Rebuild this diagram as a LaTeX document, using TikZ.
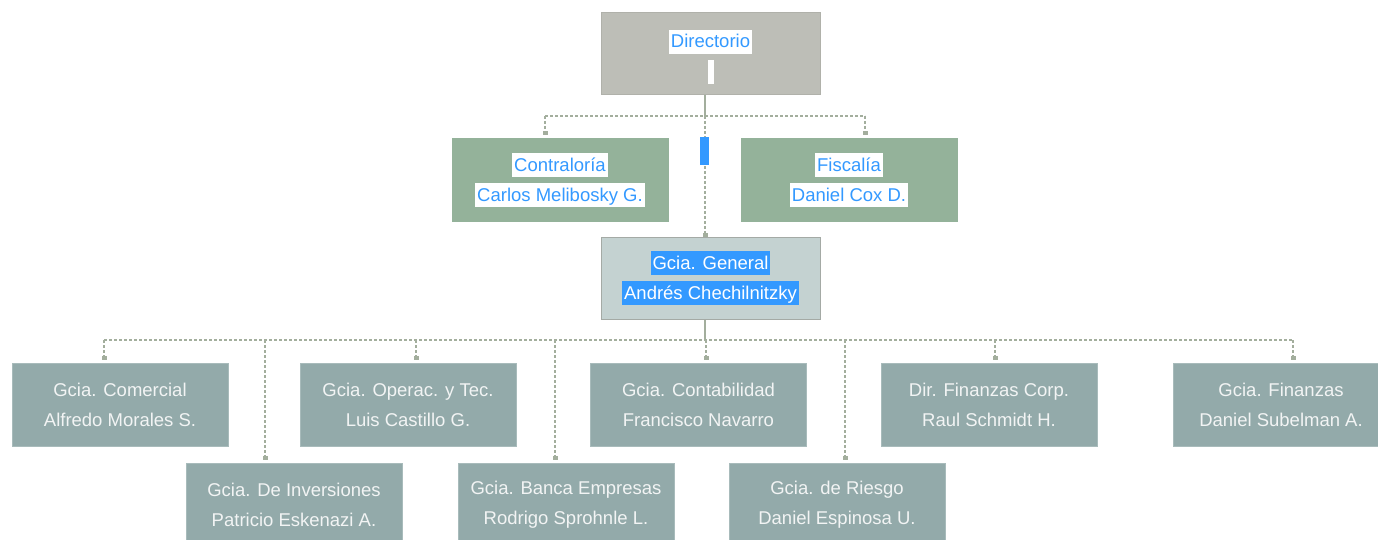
\documentclass[tikz,border=0pt]{standalone}
\usepackage{fontspec}
\setmainfont{Liberation Sans}
\usetikzlibrary{arrows.meta}

\definecolor{dirgray}{HTML}{BDBEB7}
\definecolor{dirline}{HTML}{B0B1AA}
\definecolor{boardgreen}{HTML}{94B29A}
\definecolor{gerfill}{HTML}{C4D2D1}
\definecolor{gerline}{HTML}{A4AAA5}
\definecolor{unitfill}{HTML}{93AAAA}
\definecolor{unitline}{HTML}{A8BBBB}
\definecolor{unittext}{HTML}{F2F4F4}
\definecolor{linkblue}{HTML}{3399FF}
\definecolor{wire}{HTML}{A3AE9D}

% highlighted text lines
\newcommand{\selw}[1]{{\fboxsep=0pt\colorbox{white}{\hspace{2pt}\rule[-6pt]{0pt}{24pt}\textcolor{linkblue}{#1}\hspace{2pt}}}}
\newcommand{\selb}[1]{{\fboxsep=0pt\colorbox{linkblue}{\hspace{2pt}\rule[-6pt]{0pt}{24pt}\textcolor{white}{#1}\hspace{2pt}}}}

\begin{document}
\begin{tikzpicture}[x=1pt, y=-1pt,
    font=\fontsize{18.5}{30}\selectfont,
    box/.style={draw=#1, line width=1pt, minimum width=216pt, minimum height=82pt,
        align=center, inner sep=0pt},
    board/.style={box=dirline, fill=dirgray, minimum width=219pt},
    staff/.style={box=boardgreen, fill=boardgreen},
    manager/.style={box=gerline, fill=gerfill, minimum width=219pt},
    unit/.style={box=unitline, fill=unitfill, text=unittext, minimum height=83pt},
    stem/.style={draw=wire, line width=1.2pt},
    bus/.style={stem, dash pattern=on 3pt off 2pt},
    drop/.style={bus, -{Square[length=4pt,width=5pt]}, shorten >=3pt}]

    \useasboundingbox (0,0) rectangle (1378,540);
    \clip (0,0) rectangle (1378,540);

    % Draw the board and the staff units
    \node[board] (dir) at (710.5,54) {\rule{0pt}{24pt}\selw{Directorio}\\
        {\fboxsep=0pt\colorbox{white}{\rule[-6pt]{0pt}{24pt}\hspace{6pt}}}};
    \node[staff] (ctl) at (560,180) {\selw{Contraloría}\\ \selw{Carlos Melibosky G.}};
    \node[staff] (fis) at (849,180) {\selw{Fiscalía}\\ \selw{Daniel Cox D.}};
    \node[manager] (gg) at (710.5,278) {\selb{Gcia. General}\\ \selb{Andrés Chechilnitzky}};

    % Draw the departments
    \node[unit] (com) at (120,404.5) {Gcia. Comercial\\ Alfredo Morales S.};
    \node[unit] (ope) at (408,404.5) {Gcia. Operac. y Tec.\\ Luis Castillo G.};
    \node[unit] (cnt) at (698.5,404.5) {Gcia. Contabilidad\\ Francisco Navarro};
    \node[unit] (dfc) at (989,404.5) {Dir. Finanzas Corp.\\ Raul Schmidt H.};
    \node[unit] (fin) at (1281,404.5) {Gcia. Finanzas\\ Daniel Subelman A.};
    \node[unit] (inv) at (294,504.5) {Gcia. De Inversiones\\ Patricio Eskenazi A.};
    \node[unit] (ban) at (566,504.5) {Gcia. Banca Empresas\\ Rodrigo Sprohnle L.};
    \node[unit] (rie) at (837,504.5) {Gcia. de Riesgo\\ Daniel Espinosa U.};

    % Draw connectors
    \coordinate (hub1) at (705,116);
    \coordinate (hub2) at (705,340);

    \draw[stem] (dir.south -| hub1) -- (hub1);
    \draw[bus] ([xshift=-15pt]ctl.north |- hub1) -- ([xshift=16pt]fis.north |- hub1);
    \foreach \n/\dx in {ctl/-15,fis/16}
        \draw[drop] ([xshift=\dx pt]\n.north |- hub1) -- ([xshift=\dx pt]\n.north);
    \draw[drop, shorten >=0pt] (hub1) -- (gg.north -| hub1);
    \fill[linkblue] (700,137) rectangle (709,165);

    \draw[stem] (gg.south -| hub2) -- (hub2);
    \draw[bus] ([xshift=-16pt]com.north |- hub2) -- ([xshift=12pt]fin.north |- hub2);
    \foreach \n/\dx in {com/-16,inv/-29,ope/8,ban/-11,cnt/7.5,rie/8,dfc/6,fin/12}
        \draw[drop] ([xshift=\dx pt]\n.north |- hub2) -- ([xshift=\dx pt]\n.north);
\end{tikzpicture}
\end{document}
